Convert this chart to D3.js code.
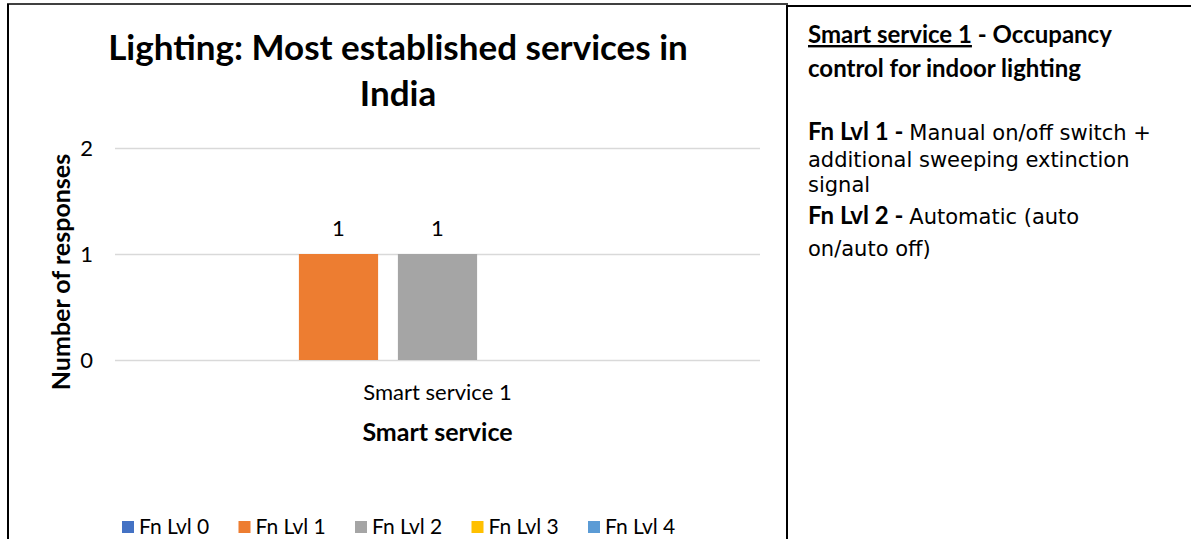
<!DOCTYPE html>
<html>
<head>
<meta charset="utf-8">
<script src="https://cdn.jsdelivr.net/npm/d3@7"></script>
<style>
  body { margin: 0; background: #fff; }
  svg { display: block; }
  .calib { font-family: Lato, "Open Sans", sans-serif; }
  .verd { font-family: "DejaVu Sans", Verdana, sans-serif; }
</style>
</head>
<body>
<div id="chart"></div>
<script>
"use strict";

// chart data
var categories = ["Smart service 1"];
var series = ["Fn Lvl 0", "Fn Lvl 1", "Fn Lvl 2", "Fn Lvl 3", "Fn Lvl 4"];
var values = [0, 1, 1, 0, 0];          // one value per series for "Smart service 1"
var colors = ["#4472C4", "#ED7D31", "#A5A5A5", "#FFC000", "#5B9BD5"];
var yTicks = [0, 1, 2];

function draw_chart(){
    var w = 1191, h = 539;

    var svg = d3.select("#chart")
        .append("svg")
        .attr("width", w)
        .attr("height", h);

    // frames
    svg.append("line").attr("x1", 7).attr("y1", 4).attr("x2", 788).attr("y2", 4)
        .attr("stroke", "#000").attr("stroke-width", 1.5);
    svg.append("line").attr("x1", 8).attr("y1", 4).attr("x2", 8).attr("y2", h)
        .attr("stroke", "#000").attr("stroke-width", 2);
    svg.append("line").attr("x1", 787).attr("y1", 5).attr("x2", 787).attr("y2", h)
        .attr("stroke", "#000").attr("stroke-width", 2);
    svg.append("line").attr("x1", 787).attr("y1", 6).attr("x2", w).attr("y2", 6)
        .attr("stroke", "#000").attr("stroke-width", 2);

    // scales
    var pLeft = 115, pRight = 760, pTop = 148, pBottom = 360;

    var y = d3.scaleLinear()
        .domain([0, 2])
        .range([pBottom, pTop]);

    var x0 = d3.scaleBand()
        .domain(categories)
        .range([pLeft, pRight])
        .paddingInner(0)
        .paddingOuter(0.1515);

    var x1 = d3.scaleBand()
        .domain(series)
        .range([0, x0.bandwidth()])
        .paddingInner(0.2)
        .paddingOuter(0.1);

    // gridlines
    var yAxis = d3.axisLeft(y)
        .tickValues(yTicks)
        .tickSize(-(pRight - pLeft))
        .tickPadding(22)
        .tickFormat(d3.format("d"));

    var gy = svg.append("g")
        .attr("transform", "translate(" + pLeft + ",0)")
        .call(yAxis);
    gy.select(".domain").remove();
    gy.selectAll(".tick line").attr("stroke", "#d9d9d9").attr("stroke-width", 1.5);
    gy.selectAll(".tick text")
        .attr("class", "calib")
        .attr("font-size", 22)
        .attr("fill", "#000");

    // bars
    var groups = svg.selectAll("g.cat")
        .data(categories)
        .enter()
        .append("g")
        .attr("class", "cat")
        .attr("transform", function(d) { return "translate(" + x0(d) + ",0)"; });

    var pts = series.map(function(s, i) { return { s: s, v: values[i], c: colors[i] }; })
        .filter(function(d) { return d.v > 0; });

    groups.selectAll("rect")
        .data(pts)
        .enter()
        .append("rect")
        .attr("x", function(d) { return x1(d.s); })
        .attr("y", function(d) { return y(d.v); })
        .attr("width", x1.bandwidth())
        .attr("height", function(d) { return y(0) - y(d.v); })
        .attr("fill", function(d) { return d.c; });

    groups.selectAll("text.lbl")
        .data(pts)
        .enter()
        .append("text")
        .attr("class", "lbl calib")
        .attr("x", function(d) { return x1(d.s) + x1.bandwidth() / 2; })
        .attr("y", function(d) { return y(d.v) - 18; })
        .attr("text-anchor", "middle")
        .attr("font-size", 22)
        .text(function(d) { return d.v; });

    // x axis labels
    var gx = svg.append("g")
        .attr("transform", "translate(0," + pBottom + ")")
        .call(d3.axisBottom(x0).tickSize(0).tickPadding(24));
    gx.select(".domain").remove();
    gx.selectAll(".tick text")
        .attr("class", "calib")
        .attr("font-size", 22)
        .attr("fill", "#000");

    // titles
    var title = svg.append("text")
        .attr("class", "calib")
        .attr("text-anchor", "middle")
        .attr("font-size", 35)
        .attr("font-weight", "bold");
    title.append("tspan").attr("x", 398).attr("y", 60).text("Lighting: Most established services in");
    title.append("tspan").attr("x", 398).attr("y", 106).text("India");

    svg.append("text")
        .attr("class", "calib")
        .attr("text-anchor", "middle")
        .attr("font-size", 25)
        .attr("font-weight", "bold")
        .attr("transform", "translate(70," + 272 + ") rotate(-90)")
        .text("Number of responses");

    svg.append("text")
        .attr("class", "calib")
        .attr("text-anchor", "middle")
        .attr("x", (pLeft + pRight) / 2)
        .attr("y", 441)
        .attr("font-size", 25)
        .attr("font-weight", "bold")
        .text("Smart service");

    // legend
    var legend = svg.selectAll("g.leg")
        .data(series)
        .enter()
        .append("g")
        .attr("class", "leg")
        .attr("transform", function(d, i) { return "translate(" + (122 + i * 116.5) + ",521)"; });
    legend.append("rect")
        .attr("width", 12).attr("height", 12)
        .attr("fill", function(d, i) { return colors[i]; });
    legend.append("text")
        .attr("class", "calib")
        .attr("x", 17).attr("y", 13)
        .attr("font-size", 21)
        .text(function(d) { return d; });

    // side note
    var note = svg.append("g").attr("transform", "translate(808,0)");
    var t1 = note.append("text").attr("class", "calib").attr("y", 43)
        .attr("font-size", 24).attr("font-weight", "bold");
    t1.append("tspan").attr("text-decoration", "underline").text("Smart service 1");
    t1.append("tspan").text(" - Occupancy");
    note.append("text").attr("class", "calib").attr("y", 77)
        .attr("font-size", 24).attr("font-weight", "bold")
        .text("control for indoor lighting");

    var l1 = note.append("text").attr("y", 140);
    l1.append("tspan").attr("class", "calib").attr("font-size", 24).attr("font-weight", "bold").text("Fn Lvl 1 - ");
    l1.append("tspan").attr("class", "verd").attr("font-size", 21).text("Manual on/off switch +");
    note.append("text").attr("class", "verd").attr("y", 167).attr("font-size", 21)
        .text("additional sweeping extinction");
    note.append("text").attr("class", "verd").attr("y", 192).attr("font-size", 21)
        .text("signal");
    var l2 = note.append("text").attr("y", 224);
    l2.append("tspan").attr("class", "calib").attr("font-size", 24).attr("font-weight", "bold").text("Fn Lvl 2 - ");
    l2.append("tspan").attr("class", "verd").attr("font-size", 21).text("Automatic (auto");
    note.append("text").attr("class", "verd").attr("y", 256).attr("font-size", 21)
        .text("on/auto off)");
}

draw_chart();
</script>
</body>
</html>
